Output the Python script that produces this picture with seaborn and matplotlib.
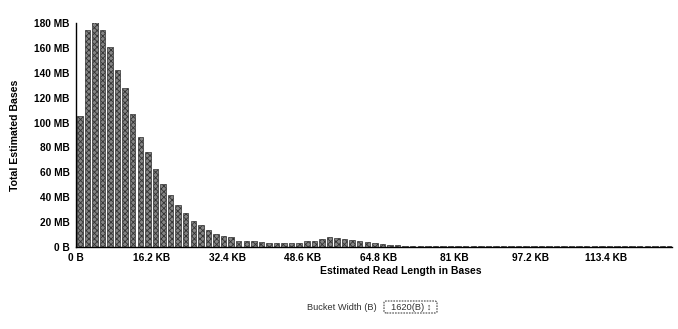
import numpy as np
import pandas as pd
import matplotlib
matplotlib.use("Agg")
import matplotlib.pyplot as plt
from matplotlib.patches import FancyBboxPatch
import seaborn as sns

# ---- data ----
bucket_width = 1620  # bytes
total_mb = [105, 174, 181, 174.5, 160.5, 142.5, 128, 107, 88.5, 76,
            63, 51, 42, 34, 27, 21, 17.7, 13.7, 10.5, 8.5,
            7.8, 5.2, 4.8, 4.6, 4.3, 3.5, 2.9, 2.9, 2.9, 3.5,
            4.6, 5.1, 6.7, 7.8, 7.0, 6.7, 5.6, 4.6, 4.0, 3.2,
            2.4, 1.6, 1.3, 1.1, 1.0, 0.9, 0.9, 0.9, 0.8, 0.8,
            0.8, 0.8, 0.8, 0.8, 0.8, 0.8, 0.8, 0.8, 0.8, 0.8,
            0.8, 0.8, 0.8, 0.8, 0.8, 0.8, 0.8, 0.8, 0.8, 0.8,
            0.8, 0.8, 0.8, 0.8, 0.8, 0.8, 0.8, 0.8, 0.8]
x_tick_bytes = [0, 16200, 32400, 48600, 64800, 81000, 97200, 113400]
x_tick_labels = ["0 B", "16.2 KB", "32.4 KB", "48.6 KB", "64.8 KB", "81 KB", "97.2 KB", "113.4 KB"]
y_ticks_mb = [0, 20, 40, 60, 80, 100, 120, 140, 160, 180]
y_tick_labels = ["0 B", "20 MB", "40 MB", "60 MB", "80 MB", "100 MB", "120 MB", "140 MB", "160 MB", "180 MB"]
x_max_bytes = 127600

df = pd.DataFrame({
    "start": np.arange(len(total_mb)) * bucket_width + bucket_width / 2,
    "mb": total_mb,
})

sns.set_theme(style="white")
plt.rcParams["font.family"] = ["Liberation Sans", "DejaVu Sans"]
plt.rcParams["hatch.color"] = "#262626"
plt.rcParams["hatch.linewidth"] = 0.6

fig = plt.figure(figsize=(6.78, 3.29), dpi=100)
ax = fig.add_axes([76 / 678, 1 - 247 / 329, 596 / 678, 224 / 329])

sns.histplot(data=df, x="start", weights="mb", binwidth=bucket_width,
             binrange=(0, len(total_mb) * bucket_width), shrink=0.72,
             color="#858585", edgecolor="#333333", linewidth=0.5, alpha=1, ax=ax)
for p in ax.patches:
    p.set_hatch("xxxxxx")

ax.set_xlim(0, x_max_bytes)
ax.set_ylim(0, 180)
ax.set_xticks(x_tick_bytes + [x_max_bytes])
ax.set_xticklabels(x_tick_labels + [""])
ax.set_yticks(y_ticks_mb)
ax.set_yticklabels(y_tick_labels)

for side in ["top", "right"]:
    ax.spines[side].set_visible(False)
for side in ["left", "bottom"]:
    ax.spines[side].set_color("black")
    ax.spines[side].set_linewidth(1.0)

ax.tick_params(axis="both", which="major", direction="out", length=3.5, width=1.0,
               color="black", labelsize=7.3, labelcolor="black", pad=1.0)
for lbl in ax.get_xticklabels() + ax.get_yticklabels():
    lbl.set_fontweight("bold")

ax.set_xlabel("Estimated Read Length in Bases", fontsize=7.5, fontweight="bold", color="black")
ax.set_ylabel("Total Estimated Bases", fontsize=7.6, fontweight="bold", color="black")
ax.xaxis.set_label_coords((401 - 76) / 596, -0.085)
ax.yaxis.set_label_coords(-(76 - 20) / 596, 0.5)
ax.grid(False)

# Bucket width control
fig.text(377 / 678, 1 - 307 / 329, "Bucket Width (B)", ha="right", va="center",
         fontsize=6.7, color="#333333")
box = FancyBboxPatch((384 / 678, 1 - 313 / 329), 53 / 678, 12 / 329,
                     boxstyle="round,pad=0,rounding_size=0.004", transform=fig.transFigure,
                     facecolor="white", edgecolor="#444444", linewidth=0.8, linestyle=(0, (1.5, 1)))
fig.patches.append(box)
fig.text(391 / 678, 1 - 307 / 329, "1620(B) \u2195", ha="left", va="center",
         fontsize=6.7, color="#333333")

fig.savefig("out.png", dpi=100)
